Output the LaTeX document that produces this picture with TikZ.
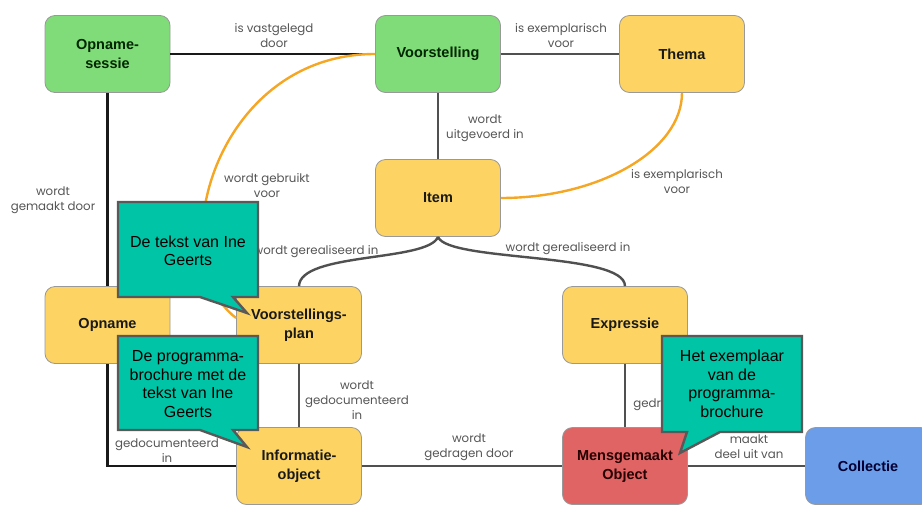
\documentclass[tikz,border=0pt]{standalone}
\usepackage{fontspec}
\setmainfont{Liberation Sans}
\newfontfamily\lblfont{Poppins}
\definecolor{ngreen}{HTML}{80DC78}
\definecolor{nyellow}{HTML}{FDD463}
\definecolor{nred}{HTML}{E06464}
\definecolor{nblue}{HTML}{6C9DE8}
\definecolor{calloutteal}{HTML}{00C4A6}
\definecolor{eorange}{HTML}{F5A623}
\definecolor{egrey}{HTML}{505050}
\definecolor{lblgrey}{HTML}{555555}
\tikzset{
  box/.style={draw=black!40, line width=0.8pt, rounded corners=10pt, minimum width=125pt, minimum height=77pt, align=center, font=\bfseries\fontsize{14.5}{18.5}\selectfont, inner sep=2pt},
  gbox/.style={box, fill=ngreen, text=green!15!black},
  ybox/.style={box, fill=nyellow, text=black!90},
  rbox/.style={box, fill=nred, text=red!15!black},
  bbox/.style={box, fill=nblue, text=blue!20!black},
  lbl/.style={font=\lblfont\fontsize{11.8}{15}\selectfont, text=lblgrey, align=center, inner sep=0pt},
  blk/.style={draw=black!90, line width=2.6pt},
  gry/.style={draw=egrey, line width=2.4pt},
  org/.style={draw=eorange, line width=2.4pt},
  callshape/.style={fill=calloutteal, draw=black!65, line width=2.4pt, line join=miter},
  calltext/.style={font=\fontsize{16}{18.5}\selectfont, align=center, text=black, inner sep=0pt}
}
\begin{document}
\begin{tikzpicture}[x=1pt,y=-1pt]
\useasboundingbox (0,0) rectangle (922,504);
\clip (0,0) rectangle (922,504);
% nodes
\node[gbox] (os) at (107.5,54) {Opname-\\sessie};
\node[gbox] (vs) at (438,54) {Voorstelling};
\node[ybox] (th) at (682,54) {Thema};
\node[ybox] (item) at (438,198) {Item};
\node[ybox] (opn) at (107.5,325) {Opname};
\node[ybox] (vp) at (299,325) {Voorstellings-\\plan};
\node[ybox] (ex) at (625,325) {Expressie};
\node[ybox] (io) at (299,466) {Informatie-\\object};
\node[rbox] (mo) at (625,466) {Mensgemaakt\\Object};
\node[bbox] (col) at (868,466) {Collectie};
% edges
\draw[blk] (os) -- (vs);
\draw[gry] (vs) -- (th);
\draw[gry] (vs) -- (item);
\draw[blk] (os) -- (opn);
\draw[blk] (opn.south) |- (io.west);
\draw[gry] (vp) -- (io);
\draw[gry] (ex) -- (mo);
\draw[gry] (io) -- (mo);
\draw[gry] (mo) -- (col);
\draw[gry] (item.south) .. controls (428,262) and (300,252) .. (vp.north);
\draw[gry] (item.south) .. controls (448,262) and (625,252) .. (ex.north);
\draw[org] (th.south) .. controls (682,150) and (600,198) .. (item.east);
\draw[org] (vs.west) .. controls (215,54) and (160,260) .. ([yshift=7pt]vp.west);
% labels
\node[lbl] (l1) at (274,36) {is vastgelegd\\door};
\node[lbl] (l2) at (561,36) {is exemplarisch\\voor};
\node[lbl] (l3) at (485,128) {wordt\\uitgevoerd in};
\node[lbl] (l4) at (677,182) {is exemplarisch\\voor};
\node[lbl] (l5) at (267,186) {wordt gebruikt\\voor};
\node[lbl] (l6) at (53,200) {wordt\\gemaakt door};
\node[lbl] (l7) at (316,252) {wordt gerealiseerd in};
\node[lbl] (l8) at (568,249) {wordt gerealiseerd in};
\node[lbl] (l9) at (357,400) {wordt\\gedocumenteerd\\in};
\node[lbl] (l10) at (167,451) {gedocumenteerd\\in};
\node[lbl] (l11) at (469,447) {wordt\\gedragen door};
\node[lbl] (l12) at (749,447) {maakt\\deel uit van};
\node[lbl] (l13) at (678,397) {wordt\\gedragen door};
% callouts
\path[callshape] (118,202) -- (258,202) -- (258,297) -- (233,297) -- (247,313) -- (200,297) -- (118,297) -- cycle;
\node[calltext] (c1) at (188,251) {De tekst van Ine\\Geerts};
\path[callshape] (118,336) -- (258,336) -- (258,430) -- (233,430) -- (247,447) -- (200,430) -- (118,430) -- cycle;
\node[calltext] (c2) at (188,384) {De programma-\\brochure met de\\tekst van Ine\\Geerts};
\path[callshape] (662,336) -- (802,336) -- (802,432) -- (720,432) -- (680,453) -- (687,432) -- (662,432) -- cycle;
\node[calltext] (c3) at (732,384) {Het exemplaar\\van de\\programma-\\brochure};
\end{tikzpicture}
\end{document}
